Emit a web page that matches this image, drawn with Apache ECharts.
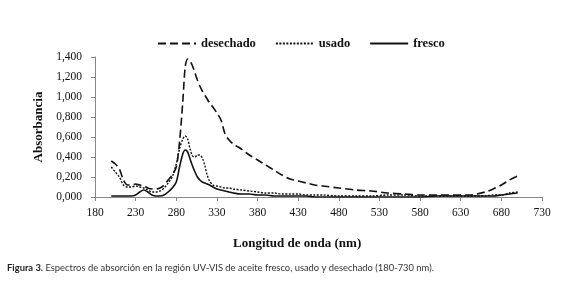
<!DOCTYPE html>
<html>
<head>
<meta charset="utf-8">
<script src="https://cdn.jsdelivr.net/npm/echarts@6/dist/echarts.min.js"></script>
<style>
  html, body { margin: 0; padding: 0; background: #fff; }
  #chart { width: 579px; height: 295px; }
</style>
</head>
<body>
<div id="chart"></div>
<script>
  // longitudes de onda (nm)
  const wavelengths = [200, 205, 210, 215, 220, 225, 230, 235, 240, 245,
    250, 255, 260, 265, 270, 275, 280, 284, 288, 291,
    294, 297, 300, 303, 306, 309, 312, 315, 318, 321,
    325, 330, 335, 340, 345, 350, 360, 370, 380, 390,
    400, 410, 420, 430, 440, 450, 460, 480, 500, 520,
    540, 560, 580, 600, 620, 640, 650, 660, 670, 680,
    690, 700];

  const desechado = [0.36, 0.33, 0.28, 0.17, 0.12, 0.12, 0.13, 0.12, 0.11, 0.09,
    0.08, 0.08, 0.09, 0.12, 0.17, 0.22, 0.30, 0.55, 0.95, 1.30,
    1.38, 1.36, 1.31, 1.24, 1.17, 1.11, 1.06, 1.02, 0.98, 0.94,
    0.90, 0.84, 0.77, 0.63, 0.57, 0.53, 0.48, 0.42, 0.37, 0.32,
    0.27, 0.22, 0.18, 0.16, 0.14, 0.12, 0.11, 0.09, 0.07, 0.06,
    0.04, 0.03, 0.02, 0.02, 0.02, 0.02, 0.03, 0.05, 0.08, 0.12,
    0.17, 0.21];

  const usado = [0.30, 0.25, 0.20, 0.12, 0.10, 0.10, 0.11, 0.10, 0.09, 0.07,
    0.05, 0.05, 0.06, 0.09, 0.14, 0.20, 0.33, 0.48, 0.58, 0.61,
    0.58, 0.48, 0.41, 0.40, 0.42, 0.42, 0.39, 0.32, 0.22, 0.16,
    0.12, 0.11, 0.10, 0.09, 0.09, 0.08, 0.07, 0.06, 0.05, 0.04,
    0.04, 0.03, 0.03, 0.03, 0.02, 0.02, 0.02, 0.01, 0.01, 0.01,
    0.02, 0.02, 0.01, 0.01, 0.01, 0.01, 0.01, 0.01, 0.02, 0.02,
    0.04, 0.05];

  const fresco = [0.01, 0.01, 0.01, 0.01, 0.01, 0.01, 0.02, 0.05, 0.07, 0.05,
    0.02, 0.01, 0.01, 0.02, 0.05, 0.09, 0.15, 0.30, 0.43, 0.47,
    0.45, 0.38, 0.31, 0.25, 0.20, 0.17, 0.15, 0.14, 0.13, 0.12,
    0.10, 0.08, 0.07, 0.06, 0.05, 0.04, 0.03, 0.03, 0.02, 0.02,
    0.01, 0.01, 0.01, 0.01, 0.01, 0, 0, 0, 0, 0,
    0, 0, 0, 0.01, 0.01, 0.01, 0.01, 0.01, 0.01, 0.02,
    0.03, 0.04];

  const serif = '"Liberation Serif", "DejaVu Serif", serif';

  function pairs(ys) {
    return wavelengths.map((x, i) => [x, ys[i]]);
  }

  const chart = echarts.init(document.getElementById('chart'));
  chart.setOption({
    backgroundColor: '#fff',
    animation: false,
    grid: { left: 95, right: 37, top: 57, bottom: 98 },
    legend: {
      data: ['desechado', 'usado', 'fresco'],
      left: 152,
      top: 32,
      itemWidth: 38,
      itemHeight: 8,
      itemGap: 19,
      itemStyle: { opacity: 0 },
      textStyle: { fontFamily: serif, fontSize: 12.5, fontWeight: 'bold', color: '#111' }
    },
    xAxis: {
      type: 'value',
      min: 180,
      max: 730,
      interval: 50,
      axisLine: { lineStyle: { color: '#888' } },
      axisTick: { show: true, length: 4, lineStyle: { color: '#888' } },
      splitLine: { show: false },
      axisLabel: { margin: 10, fontFamily: serif, fontSize: 11.5, color: '#111' }
    },
    yAxis: {
      type: 'value',
      min: 0,
      max: 1.4,
      interval: 0.2,
      name: 'Absorbancia',
      nameLocation: 'middle',
      nameRotate: 90,
      nameGap: 40,
      nameTextStyle: { fontFamily: serif, fontSize: 13, fontWeight: 'bold', color: '#111' },
      axisLine: { show: true, lineStyle: { color: '#888' } },
      axisTick: { show: true, length: 4, lineStyle: { color: '#888' } },
      splitLine: { show: false },
      axisLabel: {
        margin: 13,
        fontFamily: serif,
        fontSize: 11.5,
        color: '#111',
        formatter: v => v.toFixed(3).replace('.', ',')
      }
    },
    graphic: [{
      type: 'text',
      left: 233,
      top: 237,
      style: {
        text: 'Longitud de onda (nm)',
        font: 'bold 13px ' + serif,
        fill: '#111'
      }
    }, {
      type: 'text',
      left: 7,
      top: 263,
      style: {
        text: '{b|Figura 3.} Espectros de absorción en la región UV-VIS de aceite fresco, usado y desechado (180-730 nm).',
        rich: {
          b: { fontFamily: 'Lato', fontSize: 9.4, fontWeight: 'bold', fill: '#222' }
        },
        fontFamily: 'Lato',
        fontSize: 9.4,
        fill: '#333'
      }
    }],
    series: [{
      name: 'desechado',
      type: 'line',
      data: pairs(desechado),
      symbol: 'none',
      smooth: 0.3,
      lineStyle: { color: '#111', width: 1.6, type: [8, 4] },
      itemStyle: { color: '#111' }
    }, {
      name: 'usado',
      type: 'line',
      data: pairs(usado),
      symbol: 'none',
      smooth: 0.3,
      lineStyle: { color: '#111', width: 1.4, type: [2, 1.5] },
      itemStyle: { color: '#111' }
    }, {
      name: 'fresco',
      type: 'line',
      data: pairs(fresco),
      symbol: 'none',
      smooth: 0.3,
      lineStyle: { color: '#111', width: 1.6, type: 'solid' },
      itemStyle: { color: '#111' }
    }]
  });
</script>
</body>
</html>
